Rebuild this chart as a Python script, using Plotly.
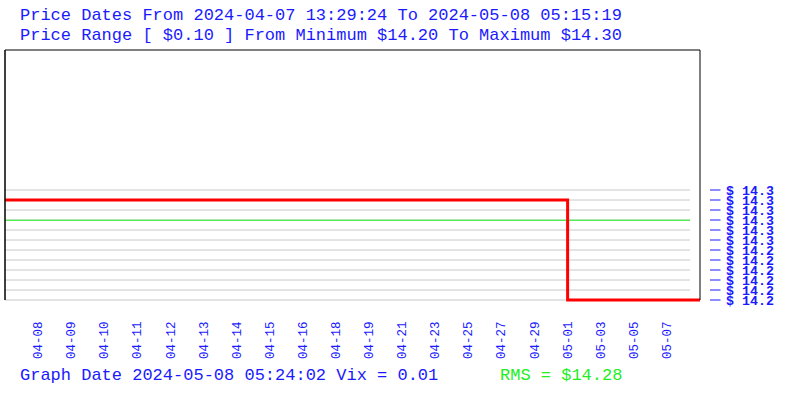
import plotly.graph_objects as go

# ---- data ----
tick_labels = ["04-08", "04-09", "04-10", "04-11", "04-12", "04-13", "04-14", "04-15",
               "04-16", "04-18", "04-19", "04-21", "04-23", "04-25", "04-27", "04-29",
               "05-01", "05-03", "05-05", "05-07"]
tick_positions = list(range(len(tick_labels)))

# price series (sample index -> price), step shaped
price_index = [-1, 16, 20]
price_values = [14.291, 14.20, 14.20]

price_min = 14.20
price_max = 14.30
n_levels = 12
level_values = [price_min + i * (price_max - price_min) / (n_levels - 1) for i in range(n_levels)]
level_labels = ["$ %.1f" % v for v in level_values]

rms_value = 14.2725
rms_text = "$14.28"

title1 = "Price Dates From 2024-04-07 13:29:24 To 2024-05-08 05:15:19"
title2 = "Price Range [ $0.10 ] From Minimum $14.20 To Maximum $14.30"
footer = "Graph Date 2024-05-08 05:24:02 Vix = 0.01"

FONT = "Liberation Mono"
BLUE = "#1a1aff"
GREEN = "#22ee22"

fig = go.Figure()

fig.add_trace(go.Scatter(
    x=[-1, 19.7], y=[rms_value, rms_value], mode="lines",
    line=dict(color=GREEN, width=1.2), hoverinfo="skip", showlegend=False))

fig.add_trace(go.Scatter(
    x=price_index, y=price_values, mode="lines", line_shape="hv",
    line=dict(color="#ff0000", width=3), showlegend=False))

px_val = (price_max - price_min) / 110
y_top = price_min + 250 * px_val
y_bot = price_min - 2 * px_val

grid_shapes = [dict(type="line", xref="x", yref="y", x0=-1, x1=19.7, y0=v, y1=v,
                    layer="below", line=dict(color="#c8c8c8", width=1))
               for v in level_values]

# small tick dashes sitting right of the frame
tick_shapes = []
for v in level_values:
    yp = (v - y_bot) / (y_top - y_bot)
    tick_shapes.append(dict(type="line", xref="paper", yref="paper",
                            x0=1 + 10 / 695, x1=1 + 20.5 / 695, y0=yp, y1=yp,
                            line=dict(color=BLUE, width=1)))

fig.update_layout(
    width=800, height=400,
    margin=dict(l=5, r=100, t=50, b=98),
    paper_bgcolor="white", plot_bgcolor="white",
    font=dict(family=FONT, color=BLUE),
    xaxis=dict(range=[-1, 20], tickvals=tick_positions, ticktext=tick_labels,
               tickangle=-90, showgrid=False, zeroline=False, showline=False,
               ticks="", ticklabelstandoff=16,
               tickfont=dict(family=FONT, size=12.5, color=BLUE)),
    yaxis=dict(range=[y_bot, y_top], side="right", tickvals=level_values,
               ticktext=level_labels, showgrid=False,
               zeroline=False, showline=False, ticks="", ticklabelstandoff=25,
               tickfont=dict(family=FONT, size=13.3, color=BLUE, weight="bold")),
    shapes=grid_shapes + tick_shapes + [
        dict(type="line", xref="paper", yref="y", x0=0, x1=0, y0=price_min, y1=y_top,
             line=dict(color="black", width=1.5)),
        dict(type="line", xref="paper", yref="paper", x0=0, x1=1, y0=1, y1=1,
             line=dict(color="black", width=1)),
        dict(type="line", xref="paper", yref="y", x0=1, x1=1, y0=price_min, y1=y_top,
             line=dict(color="black", width=1)),
    ],
    annotations=[
        dict(text=title1, xref="paper", yref="paper", x=0, y=1, xanchor="left",
             yanchor="middle", xshift=13, yshift=35, showarrow=False,
             font=dict(family=FONT, size=17, color=BLUE)),
        dict(text=title2, xref="paper", yref="paper", x=0, y=1, xanchor="left",
             yanchor="middle", xshift=13, yshift=15, showarrow=False,
             font=dict(family=FONT, size=17, color=BLUE)),
        dict(text=footer, xref="paper", yref="paper", x=0, y=0, xanchor="left",
             yanchor="middle", xshift=13, yshift=-73, showarrow=False,
             font=dict(family=FONT, size=17, color=BLUE)),
        dict(text="RMS = " + rms_text, xref="paper", yref="paper", x=495 / 695, y=0,
             xanchor="left", yanchor="middle", xshift=-2, yshift=-73, showarrow=False,
             font=dict(family=FONT, size=17, color=GREEN)),
    ],
)

fig.write_html("out.html", config={"displayModeBar": False},
               post_script="document.body.style.margin='0';")
